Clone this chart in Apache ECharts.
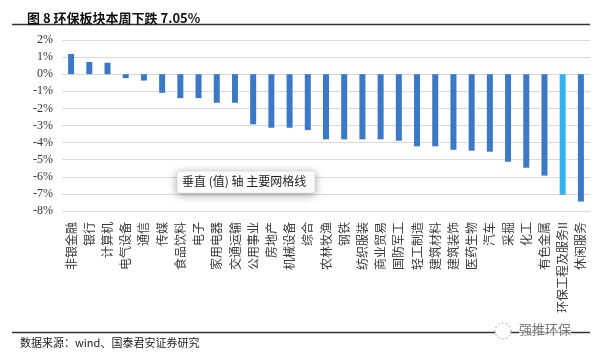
<!DOCTYPE html>
<html>
<head>
<meta charset="utf-8">
<script src="https://cdn.jsdelivr.net/npm/echarts@6/dist/echarts.min.js"></script>
<style>html,body{margin:0;padding:0;background:#fff;}#c{width:600px;height:355px;}</style>
</head>
<body>
<div id="c"></div>
<script>
var categories = ['非银金融','银行','计算机','电气设备','通信','传媒','食品饮料','电子','家用电器','交通运输','公用事业','房地产','机械设备','综合','农林牧渔','钢铁','纺织服装','商业贸易','国防军工','轻工制造','建筑材料','建筑装饰','医药生物','汽车','采掘','化工','有色金属','环保工程及服务II','休闲服务'];
var weeklyChange = [1.18,0.72,0.67,-0.23,-0.37,-1.09,-1.40,-1.40,-1.67,-1.67,-2.93,-3.13,-3.13,-3.27,-3.81,-3.81,-3.81,-3.81,-3.89,-4.22,-4.22,-4.42,-4.47,-4.53,-5.12,-5.47,-5.93,-7.05,-7.45];
var highlightName = '环保工程及服务II';
var yTicks = {min: -8, max: 2, interval: 1};

var chart = echarts.init(document.getElementById('c'));
var data = weeklyChange.map(function (v, i) {
  return {
    value: v,
    itemStyle: {color: categories[i] === highlightName ? '#33b2f0' : '#3b78c6'}
  };
});
chart.setOption({
  animation: false,
  backgroundColor: '#fff',
  title: {
    text: '图 8 环保板块本周下跌 7.05%',
    left: 22, top: 7,
    textStyle: {fontFamily: 'Noto Sans CJK SC', fontWeight: 'bold', fontSize: 13, color: '#111'}
  },
  grid: {left: 62, right: 10, top: 40, bottom: 144},
  xAxis: {
    type: 'category',
    data: categories,
    axisLine: {show: false},
    axisTick: {show: false},
    axisLabel: {
      interval: 0, rotate: 90, margin: 11,
      fontFamily: 'Noto Sans CJK SC', fontSize: 12, color: '#3a3a3a'
    }
  },
  yAxis: {
    type: 'value',
    min: yTicks.min, max: yTicks.max, interval: yTicks.interval,
    axisLine: {show: false},
    axisTick: {show: false},
    axisLabel: {
      formatter: function (v) { return v + '%'; },
      fontFamily: 'Liberation Serif', fontSize: 12, color: '#333', margin: 9
    },
    splitLine: {lineStyle: {color: '#d9d9d9', width: 1}}
  },
  series: [{
    type: 'bar',
    data: data,
    barWidth: 6
  }],
  graphic: [
    {type: 'line', shape: {x1: 12, y1: 24.5, x2: 590, y2: 24.5}, style: {stroke: '#333', lineWidth: 1.5}},
    {type: 'line', shape: {x1: 12, y1: 332.5, x2: 590, y2: 332.5}, style: {stroke: '#333', lineWidth: 1.5}, z: 1},
    {type: 'text', left: 20, top: 337, style: {text: '数据来源：wind、国泰君安证券研究', fontFamily: 'Noto Sans CJK SC', fontSize: 11, fill: '#222'}},
    {type: 'circle', shape: {cx: 503, cy: 331, r: 8}, style: {fill: '#fff', stroke: '#aaa', lineWidth: 1, lineDash: [2, 2]}, z: 5},
    {type: 'text', left: 519, top: 323, style: {text: '强推环保', fontFamily: 'Noto Sans CJK SC', fontSize: 13, fill: '#777', backgroundColor: 'rgba(255,255,255,0.6)'}, z: 5},
    {type: 'rect', shape: {x: 177, y: 171, width: 138, height: 22, r: 2},
      style: {fill: '#fff', stroke: '#ccc', lineWidth: 0.5, shadowBlur: 8, shadowColor: 'rgba(0,0,0,0.35)', shadowOffsetY: 2}, z: 10},
    {type: 'text', left: 182, top: 175, style: {text: '垂直 (值) 轴 主要网格线', fontFamily: 'Noto Sans CJK SC', fontSize: 12, fill: '#222'}, z: 11}
  ]
});
</script>
</body>
</html>
